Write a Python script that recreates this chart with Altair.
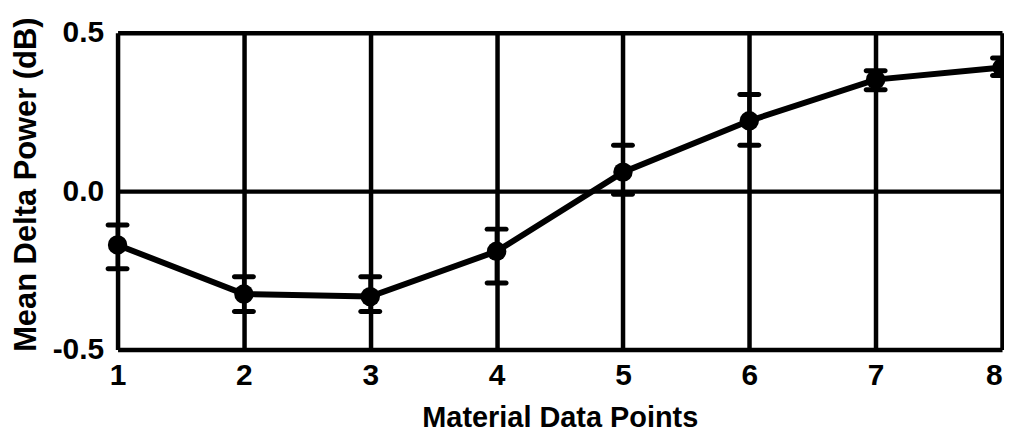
import altair as alt
import pandas as pd

points = [1, 2, 3, 4, 5, 6, 7, 8]
mean_delta = [-0.17, -0.325, -0.333, -0.19, 0.06, 0.222, 0.352, 0.39]
err_high = [-0.107, -0.27, -0.27, -0.12, 0.145, 0.305, 0.38, 0.42]
err_low = [-0.245, -0.38, -0.38, -0.29, -0.01, 0.145, 0.32, 0.365]

y_ticks = [-0.5, 0.0, 0.5]

df = pd.DataFrame({"pt": points, "val": mean_delta, "hi": err_high, "lo": err_low})

FONT = "Liberation Sans"

x_enc = alt.X(
    "pt:Q",
    scale=alt.Scale(domain=[1, 8], nice=False, zero=False),
    axis=alt.Axis(
        values=points,
        title="Material Data Points",
        format="d",
        grid=True,
        gridColor="black",
        gridWidth=4.5,
        gridOpacity=1,
        domain=False,
        ticks=False,
        labelPadding=11,
        labelFont=FONT,
        labelFontSize=30,
        labelFontWeight="bold",
        labelColor="black",
        labelAlign={"condition": {"test": "datum.value == 8", "value": "right"}, "value": "center"},
        titleFont=FONT,
        titleFontSize=29,
        titleFontWeight="bold",
        titleColor="black",
        titleBaseline="alphabetic",
        titleY=77,
        labelFlush=False,
    ),
)

y_scale = alt.Scale(domain=[-0.5, 0.5], nice=False, zero=False)
y_enc = alt.Y(
    "val:Q",
    scale=y_scale,
    axis=alt.Axis(
        values=y_ticks,
        title="Mean Delta Power (dB)",
        labelExpr="datum.value < 0 ? '-' + format(-datum.value, '.1f') : format(datum.value, '.1f')",
        grid=True,
        gridColor="black",
        gridWidth=4.5,
        gridOpacity=1,
        domain=False,
        ticks=False,
        labelPadding=14,
        labelFont=FONT,
        labelFontSize=30,
        labelFontWeight="bold",
        labelColor="black",
        titleFont=FONT,
        titleFontSize=31,
        titleFontWeight="bold",
        titleColor="black",
        titlePadding=10,
        titleY=152,
        labelFlush=False,
    ),
)

base = alt.Chart(df)

line = base.mark_line(color="black", strokeWidth=6, clip=False).encode(x=x_enc, y=y_enc)

pts = base.mark_circle(color="black", opacity=1, size=380, clip=False).encode(x="pt:Q", y="val:Q")

rule = base.mark_rule(color="black", strokeWidth=4).encode(
    x="pt:Q", y=alt.Y("lo:Q", scale=y_scale), y2="hi:Q"
)

cap_hi = base.mark_tick(
    color="black", orient="horizontal", size=24, thickness=5, cornerRadius=2.5, opacity=1, clip=False
).encode(x="pt:Q", y=alt.Y("hi:Q", scale=y_scale))

cap_lo = base.mark_tick(
    color="black", orient="horizontal", size=24, thickness=5, cornerRadius=2.5, opacity=1, clip=False
).encode(x="pt:Q", y=alt.Y("lo:Q", scale=y_scale))

chart = (
    alt.layer(line, rule, cap_hi, cap_lo, pts)
    .properties(
        width=888,
        height=318,
        autosize=alt.AutoSizeParams(type="none"),
        padding={"left": 110, "top": 24, "right": 2, "bottom": 85},
    )
    .configure_view(stroke="black", strokeWidth=5)
    .configure(background="white")
)

chart.save("out.html", embed_options={"renderer": "svg", "actions": False})
